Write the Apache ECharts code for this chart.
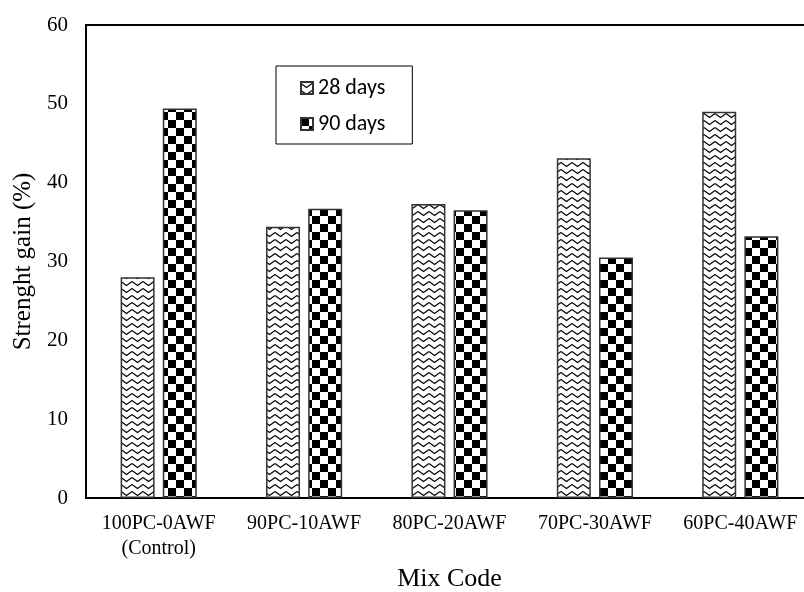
<!DOCTYPE html>
<html>
<head>
<meta charset="utf-8">
<script src="https://cdn.jsdelivr.net/npm/echarts@6/dist/echarts.min.js"></script>
<style>html,body{margin:0;padding:0;background:#fff;}#c{width:804px;height:592px;}</style>
</head>
<body>
<div id="c"></div>
<script>
const categories = ['100PC-0AWF\n(Control)', '90PC-10AWF', '80PC-20AWF', '70PC-30AWF', '60PC-40AWF'];
const days28 = [28.0, 34.4, 37.3, 43.1, 49.0];
const days90 = [49.4, 36.7, 36.5, 30.5, 33.2];
const seriesNames = ['28 days', '90 days'];
const yTicks = {min: 0, max: 60, interval: 10};

function wavePattern() {
  const c = document.createElement('canvas');
  c.width = 11; c.height = 7;
  const g = c.getContext('2d');
  g.fillStyle = '#fff'; g.fillRect(0, 0, 11, 7);
  g.strokeStyle = '#000'; g.lineWidth = 1.1;
  g.beginPath();
  g.moveTo(0, 1.5); g.lineTo(5.5, 5.5); g.lineTo(11, 1.5);
  g.stroke();
  return c;
}
function checkerPattern() {
  const c = document.createElement('canvas');
  c.width = 16; c.height = 16;
  const g = c.getContext('2d');
  g.fillStyle = '#fff'; g.fillRect(0, 0, 16, 16);
  g.fillStyle = '#000';
  g.fillRect(0, 0, 8, 8); g.fillRect(8, 8, 8, 8);
  return c;
}

const chart = echarts.init(document.getElementById('c'), null, {renderer: 'canvas'});
const serif = '"Liberation Serif", "Times New Roman", serif';
chart.setOption({
  animation: false,
  backgroundColor: '#fff',
  grid: {left: 86, top: 25, width: 727, height: 473, outerBoundsMode: 'none', containLabel: false,
         show: true, borderColor: '#000', borderWidth: 2, backgroundColor: 'transparent'},
  legend: {
    left: 276, top: 66, orient: 'vertical', icon: 'rect', itemWidth: 12, itemHeight: 12, itemGap: 14,
    padding: [11, 27, 9, 24], borderColor: '#000', borderWidth: 1,
    textStyle: {fontFamily: 'Carlito, Lato, "Open Sans", sans-serif', fontSize: 22, color: '#000'},
    data: seriesNames
  },
  xAxis: {
    type: 'category', data: categories,
    axisLine: {lineStyle: {color: '#000', width: 2}},
    axisTick: {show: false},
    axisLabel: {fontFamily: serif, fontSize: 20, color: '#000', margin: 13, lineHeight: 25, interval: 0},
    name: 'Mix Code', nameLocation: 'middle', nameGap: 52,
    nameTextStyle: {fontFamily: serif, fontSize: 26, color: '#000'}
  },
  yAxis: {
    type: 'value', min: yTicks.min, max: yTicks.max, interval: yTicks.interval,
    axisLine: {show: true, lineStyle: {color: '#000', width: 2}},
    axisTick: {show: false},
    splitLine: {show: false},
    axisLabel: {fontFamily: serif, fontSize: 21, color: '#000', margin: 18},
    name: 'Strenght gain (%)', nameLocation: 'middle', nameGap: 48,
    nameTextStyle: {fontFamily: serif, fontSize: 25, color: '#000'}
  },
  series: [
    {name: seriesNames[0], type: 'bar', data: days28, barWidth: 34, barGap: '24%',
     itemStyle: {color: {image: wavePattern(), repeat: 'repeat'}, borderColor: '#333', borderWidth: 1.5}},
    {name: seriesNames[1], type: 'bar', data: days90, barWidth: 34, barGap: '24%',
     itemStyle: {color: {image: checkerPattern(), repeat: 'repeat'}, borderColor: '#333', borderWidth: 1.5}}
  ]
});
</script>
</body>
</html>
